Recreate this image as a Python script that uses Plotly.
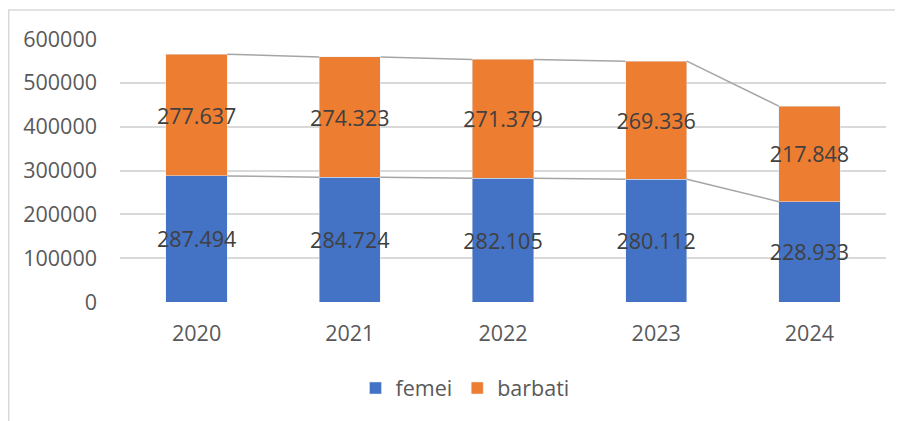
import plotly.graph_objects as go

years = ["2020", "2021", "2022", "2023", "2024"]
femei = [287494, 284724, 282105, 280112, 228933]
barbati = [277637, 274323, 271379, 269336, 217848]
y_ticks = [0, 100000, 200000, 300000, 400000, 500000, 600000]

# page body has an 8px margin; compensate so the plot lands where the reference has it
OFF = 8
W, H = 903 - OFF, 421 - OFF
L, R, T = 120 - OFF, 17, 39 - OFF
pw = W - L - R
ph = 263
B = H - T - ph
bw = 0.4
xs = list(range(len(years)))
FS = 21.5

def fmt(v):
    return f"{v:,}".replace(",", ".")

FONT = "Open Sans"
fig = go.Figure()
for name, vals, col in (("femei", femei, "#4472C4"), ("barbati", barbati, "#ED7D31")):
    fig.add_bar(x=xs, y=vals, name=name, marker_color=col, width=bw,
                text=[fmt(v) for v in vals], textposition="inside",
                insidetextanchor="middle", textangle=0,
                textfont=dict(color="#404040", size=FS, family=FONT),
                constraintext="none", cliponaxis=False, hoverinfo="skip")

# series lines connecting bar tops
tops_f = femei
tops_t = [a + b for a, b in zip(femei, barbati)]
for tops in (tops_f, tops_t):
    lx, ly = [], []
    for i in range(len(xs) - 1):
        lx += [xs[i] + bw / 2, xs[i + 1] - bw / 2, None]
        ly += [tops[i], tops[i + 1], None]
    fig.add_scatter(x=lx, y=ly, mode="lines", line=dict(color="#A5A5A5", width=1.5),
                    showlegend=False, hoverinfo="skip")

# chart border (left & top visible)
fig.add_shape(type="rect", xref="paper", yref="paper",
              x0=(0.75 - L) / pw, x1=(W + 20 - L) / pw,
              y0=-(H + 20 - T - ph) / ph, y1=(ph + T - 2) / ph,
              line=dict(color="#D9D9D9", width=1.5), layer="below")

fig.update_layout(
    width=W, height=H, margin=dict(l=L, r=R, t=T, b=B, autoexpand=False),
    barmode="stack", plot_bgcolor="white", paper_bgcolor="white",
    font=dict(family=FONT, color="#595959", size=FS),
    showlegend=True,
    legend=dict(orientation="h", x=(465 - 120) / pw, xanchor="center",
                y=-(388 - 39 - ph) / ph, yanchor="middle",
                font=dict(size=FS, color="#595959"),
                itemwidth=30, traceorder="normal", bgcolor="rgba(0,0,0,0)"),
    xaxis=dict(range=[-0.5, len(xs) - 0.5], tickvals=xs, ticktext=years,
               showgrid=False, zeroline=False, showline=False, ticks="",
               ticklabelstandoff=16, tickfont=dict(size=FS, color="#595959")),
    yaxis=dict(range=[0, 600000], tickvals=y_ticks, ticktext=[str(v) for v in y_ticks],
               showgrid=True, gridcolor="#D9D9D9", gridwidth=1.5, zeroline=False,
               showline=False, ticks="", ticklabelstandoff=22,
               tickfont=dict(size=FS, color="#595959")),
)
fig.write_html("out.html")
